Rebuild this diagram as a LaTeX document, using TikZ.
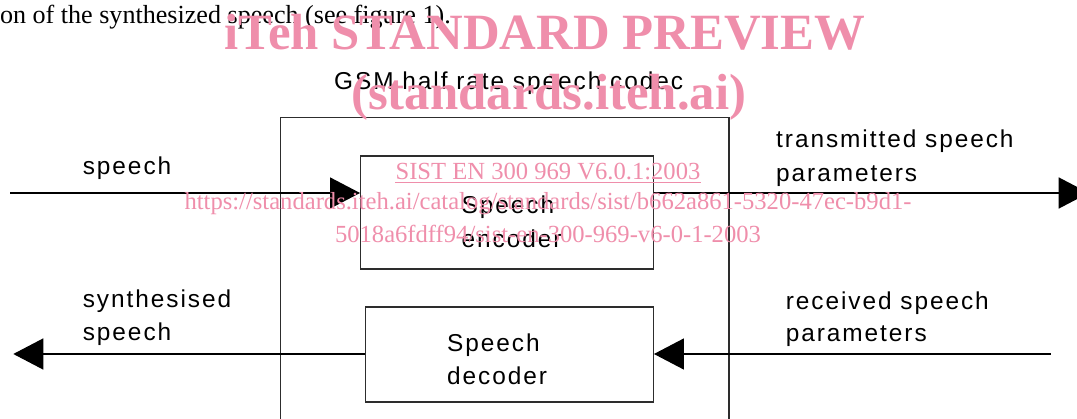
\documentclass[tikz,border=0pt]{standalone}
\usepackage{fontspec}
\setmainfont{Liberation Serif}
\newfontfamily\lblfont[LetterSpace=8]{Liberation Sans}
\usetikzlibrary{arrows.meta}
\definecolor{wmpink}{RGB}{239,142,171}
\definecolor{boxgray}{RGB}{45,45,45}
\begin{document}
\begin{tikzpicture}[x=1pt,y=-1pt,
  box/.style={draw=boxgray, line width=1.3pt, inner sep=0pt},
  lbl/.style={anchor=base west, inner sep=0pt, font=\lblfont\fontsize{24.4}{30}\selectfont},
  conn/.style={draw=black, line width=1.4pt, -{Triangle[length=30pt,width=31pt]}},
  wmbig/.style={anchor=base west, inner sep=0pt, text=wmpink, font=\bfseries\fontsize{50.8}{60}\selectfont},
  wmsmall/.style={anchor=base, inner sep=0pt, text=wmpink, font=\fontsize{24.6}{30}\selectfont},
  bodytext/.style={anchor=base east, inner sep=0pt, font=\fontsize{26.1}{30}\selectfont}]
\useasboundingbox (0,0) rectangle (1077,419);
\clip (0,0) rectangle (1077,419);

% body text line
\node[bodytext] (para) at (451,24) {on of the synthesized speech (see figure 1).};

% outer codec box (continues below the picture)
\node[box, minimum width=448.3pt, minimum height=322.3pt] (codec) at (504.85,278.85) {};
\node[lbl] (title) at (334,90) {GSM half rate speech codec};

% encoder / decoder boxes
\node[box, minimum width=292.6pt, minimum height=113pt] (enc) at (507,212.5) {};
\node[box, minimum width=287.6pt, minimum height=95pt] (dec) at (509.5,354.5) {};
\node[lbl] (enc1) at (461.4,214) {Speech};
\node[lbl] (enc2) at (461.4,247.3) {encoder};
\node[lbl] (dec1) at (447,352) {Speech};
\node[lbl] (dec2) at (447,385) {decoder};

% free ends
\coordinate (spin) at (10,193);
\coordinate (txout) at (1088.7,193);
\coordinate (rxin) at (1050.8,354);
\coordinate (synout) at (13.3,354);

% connectors
\draw[conn] (spin) -- (spin -| enc.west);
\draw[conn] (spin -| enc.east) -- (txout);
\draw[conn] (rxin) -- (rxin -| dec.east);
\draw[conn] (rxin -| dec.west) -- (synout);

% labels
\node[lbl] (l1) at (82.6,175) {speech};
\node[lbl] (l2a) at (776,147.3) {transmitted speech};
\node[lbl] (l2b) at (776,181.7) {parameters};
\node[lbl] (l3a) at (82.6,307.3) {synthesised};
\node[lbl] (l3b) at (82.6,340.7) {speech};
\node[lbl] (l4a) at (785.6,309.3) {received speech};
\node[lbl] (l4b) at (785.6,341.7) {parameters};

% watermark
\node[wmbig] (wm1) at (224.5,50) {iTeh STANDARD PREVIEW};
\node[wmbig] (wm2) at (351,110) {(standards.iteh.ai)};
\node[wmsmall] (wm3) at (548,180) {SIST EN 300 969 V6.0.1:2003};
\draw[wmpink, line width=1.3pt] ([yshift=-2.5pt]wm3.base west) -- ([yshift=-2.5pt]wm3.base east);
\node[wmsmall] (wm4) at (548,210) {https://standards.iteh.ai/catalog/standards/sist/b662a861-5320-47ec-b9d1-};
\node[wmsmall] (wm5) at (548,243) {5018a6fdff94/sist-en-300-969-v6-0-1-2003};
\end{tikzpicture}
\end{document}
